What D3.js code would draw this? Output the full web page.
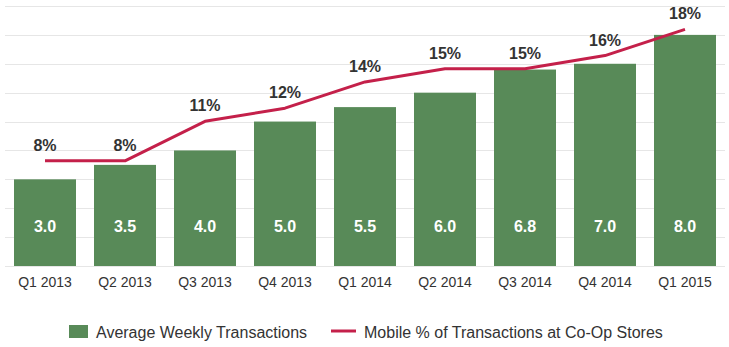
<!DOCTYPE html>
<html>
<head>
<meta charset="utf-8">
<script src="https://cdn.jsdelivr.net/npm/d3@7"></script>
<style>
  html, body { margin: 0; padding: 0; background: #fff; }
  svg { display: block; font-family: "Liberation Sans", Arial, sans-serif; }
</style>
</head>
<body>
<svg id="chart" width="729" height="347"></svg>
<script>
const categories = ["Q1 2013","Q2 2013","Q3 2013","Q4 2013","Q1 2014","Q2 2014","Q3 2014","Q4 2014","Q1 2015"];
const weeklyTransactions = [3.0, 3.5, 4.0, 5.0, 5.5, 6.0, 6.8, 7.0, 8.0];
const mobilePct = [8, 8, 11, 12, 14, 15, 15, 16, 18];
const gridTicks = [0,1,2,3,4,5,6,7,8,9];
const seriesNames = ["Average Weekly Transactions", "Mobile % of Transactions at Co-Op Stores"];

const barColor = "#588a58";
const lineColor = "#c4204a";
const textColor = "#333333";

const svg = d3.select("#chart");
const plotLeft = 5, plotRight = 725, plotBottom = 266, plotTop = 6;

const x = d3.scaleBand().domain(categories).range([plotLeft, plotRight])
  .paddingInner(0.225).paddingOuter(0.1125);
const y = d3.scaleLinear().domain([0, 9]).range([plotBottom, plotTop]);
const y2 = d3.scaleLinear().domain([0, 20]).range([plotBottom, plotBottom - 20 * 13.15]);

// gridlines
svg.append("g").selectAll("line").data(gridTicks).join("line")
  .attr("x1", plotLeft).attr("x2", plotRight)
  .attr("y1", d => Math.round(y(d)) + 0.5).attr("y2", d => Math.round(y(d)) + 0.5)
  .attr("stroke", "#e6e6e6").attr("stroke-width", 1);

// bars
svg.append("g").selectAll("rect").data(weeklyTransactions).join("rect")
  .attr("x", (d, i) => x(categories[i]))
  .attr("width", x.bandwidth())
  .attr("y", d => y(d))
  .attr("height", d => plotBottom - y(d))
  .attr("fill", barColor);

// bar labels
svg.append("g").selectAll("text").data(weeklyTransactions).join("text")
  .attr("x", (d, i) => x(categories[i]) + x.bandwidth() / 2)
  .attr("y", 231.5)
  .attr("text-anchor", "middle")
  .attr("fill", "#ffffff")
  .attr("font-size", 16).attr("font-weight", "bold")
  .text(d => d.toFixed(1));

// x axis labels
const xAxis = d3.axisBottom(x).tickSize(0).tickPadding(0);
const gx = svg.append("g").attr("transform", `translate(0,${plotBottom})`).call(xAxis);
gx.select(".domain").remove();
gx.selectAll("text")
  .attr("y", 21)
  .attr("dy", null)
  .attr("fill", textColor)
  .attr("font-size", 14)
  .attr("font-family", "'Liberation Sans', Arial, sans-serif");

// line
const line = d3.line()
  .x((d, i) => x(categories[i]) + x.bandwidth() / 2)
  .y(d => y2(d));
svg.append("path").datum(mobilePct)
  .attr("d", line)
  .attr("fill", "none")
  .attr("stroke", lineColor)
  .attr("stroke-width", 3)
  .attr("stroke-linejoin", "round");

// line labels
svg.append("g").selectAll("text").data(mobilePct).join("text")
  .attr("x", (d, i) => x(categories[i]) + x.bandwidth() / 2)
  .attr("y", d => y2(d) - 10)
  .attr("text-anchor", "middle")
  .attr("fill", textColor)
  .attr("font-size", 16).attr("font-weight", "bold")
  .text(d => d + "%");

// legend
const lg = svg.append("g");
lg.append("rect").attr("x", 69).attr("y", 325).attr("width", 19).attr("height", 13).attr("fill", barColor);
lg.append("text").attr("x", 96).attr("y", 337.5).attr("fill", textColor).attr("font-size", 16).text(seriesNames[0]);
lg.append("line").attr("x1", 331).attr("x2", 356).attr("y1", 331).attr("y2", 331)
  .attr("stroke", lineColor).attr("stroke-width", 3);
lg.append("text").attr("x", 364).attr("y", 337.5).attr("fill", textColor).attr("font-size", 16).text(seriesNames[1]);
</script>
</body>
</html>
